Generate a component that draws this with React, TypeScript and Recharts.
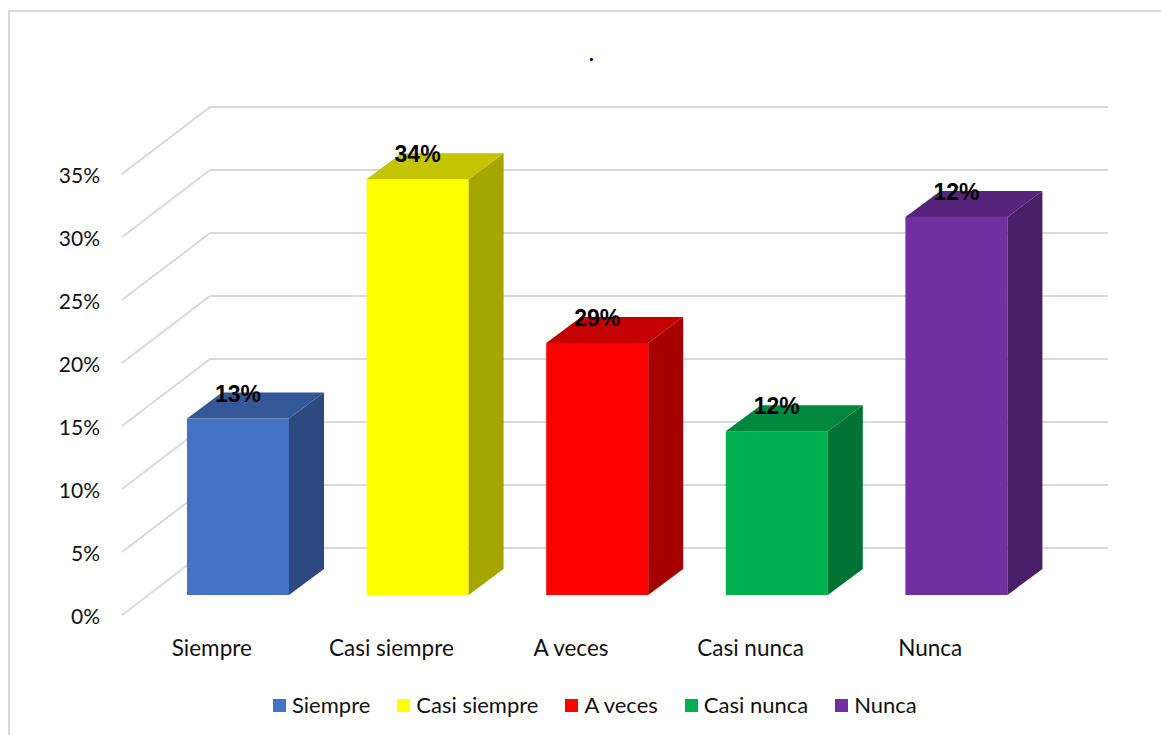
import React from "react";
import { BarChart, Bar, XAxis, YAxis, CartesianGrid, LabelList } from "recharts";

const categories = ["Siempre", "Casi siempre", "A veces", "Casi nunca", "Nunca"];
const values = [14, 33, 20, 13, 30];
const valueLabels = ["13%", "34%", "29%", "12%", "12%"];
const yTicks = [0, 5, 10, 15, 20, 25, 30, 35];

const frontColors = ["#4472C4", "#FFFF00", "#FF0000", "#00B050", "#7030A0"];
const topColors = ["#345897", "#C4C400", "#C40000", "#00883E", "#56257B"];
const sideColors = ["#2C4A7F", "#A6A600", "#A60000", "#007234", "#491F68"];

const data = categories.map((name, i) => ({ name, value: values[i], label: valueLabels[i] }));

// oblique projection: floor runs 88px right / 67px up from front to back,
// bars stand 26px in from the front edge and are 35px deep
const WALL_DX = 62;
const WALL_DY = 47;
const FRONT_DX = 26;
const FRONT_DY = 20;
const BAR_DX = 35;
const BAR_DY = 26;

const FONT = "Lato, 'Open Sans', sans-serif";
const GRID = "#D9D9D9";

function gridLine(p: any) {
  const y = p.y1;
  const by = y - WALL_DY;
  return (
    <g key={p.key}>
      <line x1={p.x1 - FRONT_DX} y1={y + FRONT_DY} x2={p.x1 + WALL_DX} y2={by} stroke={GRID} strokeWidth={2} />
      <line x1={p.x1 + WALL_DX} y1={by} x2={p.x2 + WALL_DX} y2={by} stroke={GRID} strokeWidth={2} />
    </g>
  );
}

function Bar3D(props: any) {
  const { x, y, width, height, index } = props;
  const right = x + width;
  const bottom = y + height;
  return (
    <g>
      <rect x={x} y={y} width={width} height={height} fill={frontColors[index]} />
      <polygon
        points={`${right},${y} ${right + BAR_DX},${y - BAR_DY} ${right + BAR_DX},${bottom - BAR_DY} ${right},${bottom}`}
        fill={sideColors[index]}
      />
      <polygon
        points={`${x},${y} ${x + BAR_DX},${y - BAR_DY} ${right + BAR_DX},${y - BAR_DY} ${right},${y}`}
        fill={topColors[index]}
      />
    </g>
  );
}

function YTick(props: any) {
  const { y, payload } = props;
  return (
    <text x={100} y={y + FRONT_DY} textAnchor="end" dominantBaseline="central" fontFamily={FONT} fontSize={21} fill="#111">
      {payload.value}%
    </text>
  );
}

function XTick(props: any) {
  const { x, payload } = props;
  return (
    <text x={x - FRONT_DX} y={647} textAnchor="middle" dominantBaseline="central" fontFamily={FONT} fontSize={22.5} fill="#111">
      {payload.value}
    </text>
  );
}

function ValueLabel(props: any) {
  const { x, y, width, value } = props;
  return (
    <text x={x + width / 2} y={y - 17} textAnchor="middle" fontFamily="'Liberation Sans', Arial, sans-serif" fontWeight="bold" fontSize={23} fill="#000">
      {value}
    </text>
  );
}

export default function App() {
  return (
    <div style={{ position: "absolute", left: 0, top: 0, width: 1161, height: 735, overflow: "hidden", background: "#fff" }}>
      <div style={{ position: "absolute", left: 8, top: 10, width: 1180, height: 760, border: `2px solid ${GRID}`, boxSizing: "border-box" }} />
      <div style={{ position: "absolute", left: 589, top: 41, fontFamily: FONT, fontSize: 20, fontWeight: "bold", color: "#000" }}>.</div>
      <div style={{ position: "absolute", left: 0, top: 0 }}>
        <BarChart width={1161} height={735} data={data} margin={{ top: 154, right: 115, bottom: 100, left: 88 }}>
          <CartesianGrid vertical={false} horizontal={gridLine} />
          <XAxis dataKey="name" height={40} axisLine={false} tickLine={false} interval={0} tick={XTick} />
          <YAxis domain={[0, 35]} ticks={yTicks} width={60} axisLine={false} tickLine={false} tick={YTick} />
          <Bar dataKey="value" barSize={102} shape={<Bar3D />} isAnimationActive={false}>
            <LabelList dataKey="label" content={ValueLabel} />
          </Bar>
        </BarChart>
      </div>
      <div style={{ position: "absolute", left: 273, top: 692, display: "flex", gap: 27, fontFamily: FONT, fontSize: 22, lineHeight: "26px", color: "#111" }}>
        {categories.map((c, i) => (
          <div key={c} style={{ display: "flex", alignItems: "center" }}>
            <span style={{ width: 13, height: 13, background: frontColors[i], marginRight: 6, display: "inline-block" }} />
            <span>{c}</span>
          </div>
        ))}
      </div>
    </div>
  );
}
